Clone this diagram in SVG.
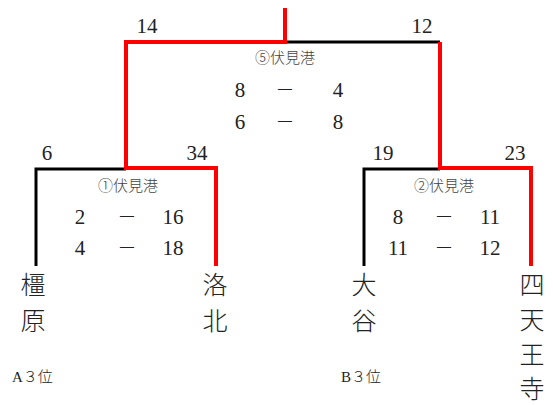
<svg xmlns="http://www.w3.org/2000/svg" width="553" height="405" viewBox="0 0 553 405">
<style>
.r{stroke:#ff0000;stroke-width:4;fill:none}
.k{stroke:#000;stroke-width:3;fill:none}
text{fill:#222;text-anchor:middle}
.n{font-size:21px;font-family:"Liberation Serif",serif}
.d{font-family:"Noto Sans CJK JP",sans-serif;font-weight:300;font-size:18px}
.v{font-size:15px;fill:#444;font-family:"Noto Sans CJK JP",sans-serif;font-weight:300}
.t{font-size:25px;font-family:"Noto Sans CJK JP",sans-serif;font-weight:300}
.s{font-size:15px;text-anchor:start;font-family:"Liberation Serif",serif}
.w{font-family:"Noto Sans CJK JP",sans-serif;font-weight:300}
</style>
<rect width="553" height="405" fill="#fff"/>
<g id="connectors">
<path class="k" d="M285,42 H440"/>
<path class="k" d="M36,266 V169 H126"/>
<path class="k" d="M364,266 V169 H440"/>
<path class="r" d="M285,8 V42 H126 V168 H216 V266"/>
<path class="r" d="M440,42 V168 H531 V266"/>
</g>
<g id="final">
<text class="n" x="147" y="33">14</text>
<text class="n" x="422" y="33">12</text>
<text class="v" x="285" y="63">⑤伏見港</text>
<text class="n" x="240" y="97">8</text><text class="d" x="285" y="97">ー</text><text class="n" x="338" y="97">4</text>
<text class="n" x="240" y="129">6</text><text class="d" x="285" y="129">ー</text><text class="n" x="338" y="129">8</text>
</g>
<g id="semi1">
<text class="n" x="47" y="160">6</text>
<text class="n" x="197" y="160">34</text>
<text class="v" x="128" y="191">①伏見港</text>
<text class="n" x="80" y="224">2</text><text class="d" x="127" y="224">ー</text><text class="n" x="173" y="224">16</text>
<text class="n" x="80" y="255">4</text><text class="d" x="127" y="255">ー</text><text class="n" x="173" y="255">18</text>
</g>
<g id="semi2">
<text class="n" x="383" y="160">19</text>
<text class="n" x="515" y="160">23</text>
<text class="v" x="444" y="191">②伏見港</text>
<text class="n" x="398" y="224">8</text><text class="d" x="444" y="224">ー</text><text class="n" x="490" y="224">11</text>
<text class="n" x="398" y="255">11</text><text class="d" x="444" y="255">ー</text><text class="n" x="490" y="255">12</text>
</g>
<g id="kashihara"><text class="t" x="33" y="294">橿</text><text class="t" x="33" y="330">原</text></g>
<g id="rakuhoku"><text class="t" x="215" y="294">洛</text><text class="t" x="215" y="330">北</text></g>
<g id="otani"><text class="t" x="364" y="294">大</text><text class="t" x="364" y="330">谷</text></g>
<g id="shitennoji"><text class="t" x="532" y="294">四</text><text class="t" x="532" y="329">天</text><text class="t" x="532" y="364">王</text><text class="t" x="532" y="398">寺</text></g>
<text class="s" x="12" y="382">A<tspan class="w">３位</tspan></text>
<text class="s" x="341" y="382">B<tspan class="w">３位</tspan></text>
</svg>
